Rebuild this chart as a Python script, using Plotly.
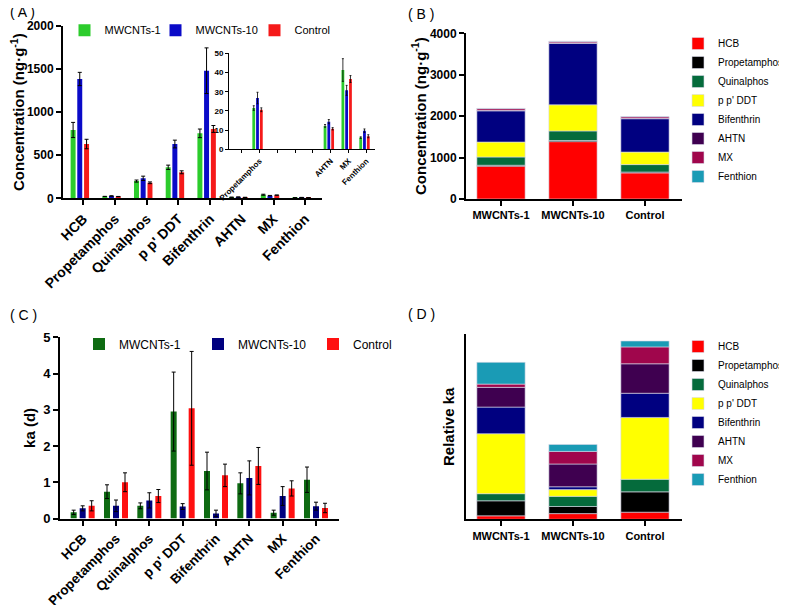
import numpy as np
import plotly.graph_objects as go

compounds = ["HCB", "Propetamphos", "Quinalphos", "p p' DDT", "Bifenthrin", "AHTN", "MX", "Fenthion"]
groups = ["MWCNTs-1", "MWCNTs-10", "Control"]
inset_ticks = ["", "Propetamphos", "", "", "", "AHTN", "MX", "Fenthion"]

# Panel A: concentration (ng/g)
conc_m1 = [793, 21.5, 200, 360, 754, 12.2, 41.3, 6.1]
conc_m1_err = [88, 1.2, 12, 25, 50, 0.7, 5.9, 0.4]
conc_m10 = [1385, 26.7, 232, 630, 1481, 14.4, 30.7, 9.7]
conc_m10_err = [77, 3.0, 25, 45, 265, 1.1, 2.6, 0.9]
conc_ctrl = [630, 20.6, 180, 302, 805, 10.7, 36.6, 6.8]
conc_ctrl_err = [55, 1.0, 10, 17, 40, 0.6, 1.8, 0.8]

# Panel C: ka (d)
ka_m1 = [0.17, 0.74, 0.35, 2.95, 1.31, 0.97, 0.16, 1.07]
ka_m1_err = [0.06, 0.19, 0.08, 1.09, 0.52, 0.29, 0.07, 0.35]
ka_m10 = [0.28, 0.35, 0.50, 0.33, 0.14, 1.12, 0.62, 0.34]
ka_m10_err = [0.07, 0.16, 0.21, 0.08, 0.09, 0.47, 0.26, 0.11]
ka_ctrl = [0.35, 1.00, 0.62, 3.04, 1.19, 1.45, 0.83, 0.29]
ka_ctrl_err = [0.14, 0.26, 0.18, 1.57, 0.31, 0.51, 0.21, 0.13]

colors_A = ["#2ccc2c", "#0a0ac8", "#f51a1a"]
colors_C = ["#0e6b12", "#00007f", "#ff1010"]
colors_stack = ["#ff0000", "#000000", "#056b3c", "#ffff00", "#000080", "#3f0050", "#a0064c", "#1a9bb5"]

FONT = "Arial, Liberation Sans, sans-serif"

conc = [conc_m1, conc_m10, conc_ctrl]
conc_err = [conc_m1_err, conc_m10_err, conc_ctrl_err]
ka = [ka_m1, ka_m10, ka_ctrl]
ka_err = [ka_m1_err, ka_m10_err, ka_ctrl_err]

# the page body margin places the figure at (8, 8) in the window
OX, OY = 8, 8
W, H = 787, 605 - OY

def px(x):
    return (x - OX) / W

def py(y):
    return (H - (y - OY)) / H

def dx(a, b):
    return [px(a), px(b)]

def dy(top, bottom):
    return [py(bottom), py(top)]

legw_A = [46, 54, 40]
legw_C = [74, 70, 40]

fig = go.Figure()

# Panel A main + inset
wA = 0.157
offA = [-0.40, -0.19, 0.025]
for g in range(3):
    fig.add_trace(go.Bar(
        x=compounds, y=conc[g], name=groups[g], width=wA, offset=offA[g], legendwidth=legw_A[g],
        marker=dict(color=colors_A[g], line=dict(width=0)),
        error_y=dict(type="data", array=conc_err[g], color="black", thickness=1, width=2),
        xaxis="x", yaxis="y", legend="legend"))
for g in range(3):
    ys = [v if v < 50 else None for v in conc[g]]
    es = [e if v < 50 else None for v, e in zip(conc[g], conc_err[g])]
    fig.add_trace(go.Bar(
        x=compounds, y=ys, name=groups[g], width=wA, offset=offA[g], showlegend=False,
        marker=dict(color=colors_A[g], line=dict(width=0)),
        error_y=dict(type="data", array=es, color="black", thickness=0.8, width=1),
        xaxis="x5", yaxis="y5"))

# Panel C
wC = 0.18
offC = [-0.36, -0.09, 0.18]
for g in range(3):
    fig.add_trace(go.Bar(
        x=compounds, y=ka[g], name=groups[g], width=wC, offset=offC[g], legendwidth=legw_C[g],
        marker=dict(color=colors_C[g], line=dict(width=0)),
        error_y=dict(type="data", array=ka_err[g], color="black", thickness=1, width=2),
        xaxis="x3", yaxis="y3", legend="legend2"))

# Panel B and D stacked
conc_arr = np.array(conc)  # groups x compounds
ka_arr = np.array(ka)
baseB = np.cumsum(conc_arr, axis=1) - conc_arr
baseD = np.cumsum(ka_arr, axis=1) - ka_arr
for c in range(len(compounds)):
    fig.add_trace(go.Bar(
        x=groups, y=conc_arr[:, c], base=baseB[:, c], name=compounds[c], width=0.67, offset=-0.335,
        marker=dict(color=colors_stack[c], line=dict(width=0.6, color="#d8d8e8")),
        xaxis="x2", yaxis="y2", legend="legend3"))
for c in range(len(compounds)):
    fig.add_trace(go.Bar(
        x=groups, y=ka_arr[:, c], base=baseD[:, c], name=compounds[c], width=0.67, offset=-0.335,
        marker=dict(color=colors_stack[c], line=dict(width=0.6, color="#d8d8e8")),
        xaxis="x4", yaxis="y4", legend="legend4"))

axcommon = dict(showgrid=False, zeroline=False, showline=True, linecolor="black", linewidth=2,
                ticks="outside", ticklen=5, tickwidth=1.5, tickcolor="black", automargin=False)

fig.update_layout(
    width=W, height=H, margin=dict(l=0, r=0, t=0, b=0),
    paper_bgcolor="white", plot_bgcolor="rgba(0,0,0,0)",
    barmode="overlay", font=dict(family=FONT, color="black"),
    xaxis=dict(axcommon, domain=dx(63, 322), type="category", range=[-0.64, 7.53], anchor="y",
               tickangle=-45, tickfont=dict(size=14, weight="bold")),
    yaxis=dict(axcommon, domain=dy(26, 198.3), range=[0, 2000], dtick=500, anchor="x",
               tickfont=dict(size=12, weight="bold"),
               title=dict(text="Concentration (ng·g<sup>-1</sup>)", font=dict(size=15, weight="bold"), standoff=3)),
    xaxis5=dict(axcommon, domain=dx(229, 375), type="category", range=[-0.71, 7.48], anchor="y5",
                tickvals=compounds, ticktext=inset_ticks, linewidth=1, ticklen=3, tickwidth=1,
                tickangle=-45, tickfont=dict(size=8, weight="bold")),
    yaxis5=dict(axcommon, domain=dy(53.3, 149.3), range=[0, 50], dtick=10, anchor="x5",
                linewidth=1, ticklen=3, tickwidth=1, tickfont=dict(size=8, weight="bold")),
    xaxis2=dict(axcommon, domain=dx(466, 681.7), type="category", range=[-0.486, 2.51], anchor="y2",
                tickfont=dict(size=11, weight="bold")),
    yaxis2=dict(axcommon, domain=dy(33.3, 199), range=[0, 4000], dtick=1000, anchor="x2",
                tickfont=dict(size=12, weight="bold"),
                title=dict(text="Concentration (ng·g<sup>-1</sup>)", font=dict(size=15, weight="bold"), standoff=0)),
    xaxis3=dict(axcommon, domain=dx(60, 339), type="category", range=[-0.68, 7.69], anchor="y3",
                tickangle=-45, tickfont=dict(size=13.5, weight="bold")),
    yaxis3=dict(axcommon, domain=dy(337.3, 518.5), range=[0, 5], dtick=1, anchor="x3",
                tickfont=dict(size=13, weight="bold"),
                title=dict(text="ka (d)", font=dict(size=15, weight="bold"), standoff=4)),
    xaxis4=dict(axcommon, domain=dx(466, 681.7), type="category", range=[-0.486, 2.51], anchor="y4",
                tickfont=dict(size=11, weight="bold")),
    yaxis4=dict(axcommon, domain=dy(334.3, 519.3), range=[0, 9.1], anchor="x4",
                ticks="", showticklabels=False,
                title=dict(text="Relative ka", font=dict(size=15, weight="bold"), standoff=6)),
    legend=dict(orientation="h", x=56.5 / W, y=(H - 7.7) / H, xanchor="left", yanchor="top",
                font=dict(size=11), bgcolor="rgba(0,0,0,0)"),
    legend2=dict(orientation="h", x=71 / W, y=(H - 321.5) / H, xanchor="left", yanchor="top",
                 font=dict(size=12), bgcolor="rgba(0,0,0,0)"),
    legend3=dict(orientation="v", x=670 / W, y=(H - 21) / H, xanchor="left", yanchor="top",
                 font=dict(size=10), bgcolor="rgba(0,0,0,0)", traceorder="normal"),
    legend4=dict(orientation="v", x=670 / W, y=(H - 324) / H, xanchor="left", yanchor="top",
                 font=dict(size=10), bgcolor="rgba(0,0,0,0)", traceorder="normal"),
)

for txt, x, y in [("( A )", 8, 12), ("( B )", 406, 14), ("( C )", 8, 315), ("( D )", 406, 314)]:
    fig.add_annotation(text=txt, x=px(x), y=py(y), xref="paper", yref="paper",
                       xanchor="left", yanchor="middle", showarrow=False, font=dict(size=14))

fig.write_html("out.html")
